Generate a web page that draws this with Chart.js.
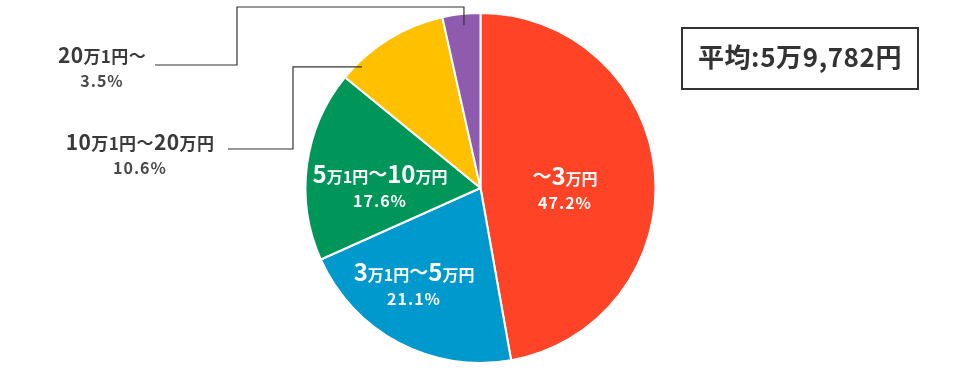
<!DOCTYPE html>
<html lang="ja">
<head>
<meta charset="utf-8">
<script src="https://cdn.jsdelivr.net/npm/chart.js@4.4.1/dist/chart.umd.min.js"></script>
<style>
  html, body { margin: 0; padding: 0; background: #ffffff; }
  #wrap { width: 960px; height: 370px; position: relative; }
</style>
</head>
<body>
<div id="wrap"><canvas id="c" width="960" height="370"></canvas></div>
<script>
// ---- data ----
const categories = ['～3万円', '3万1円～5万円', '5万1円～10万円', '10万1円～20万円', '20万1円～'];
const shares = [47.2, 21.1, 17.6, 10.6, 3.5];
const shareLabels = ['47.2%', '21.1%', '17.6%', '10.6%', '3.5%'];
const sliceColors = ['#FF4326', '#0099CD', '#00965A', '#FFC000', '#8E5BAF'];
const averageLabel = '平均:5万9,782円';

// ---- label layout (positions relative to each slice) ----
const FONT = '"Noto Sans CJK JP", "Noto Sans", sans-serif';
const insideLayout = {
  0: { shiftDeg: 5.7, frac: 0.483 },
  1: { shiftDeg: 6.5, frac: 0.672 },
  2: { shiftDeg: -7.0, frac: 0.574 }
};
const outsideLayout = {
  3: { shiftDeg: -12.7, frac: 0.968, topY: null, riseX: 293, lineY: 149, lineEndX: 228, textX: 140, baseline: 150 },
  4: { shiftDeg: 0.5, frac: 0.936, topY: 7, riseX: 237, lineY: 65, lineEndX: 155, textX: 102, baseline: 63 }
};

// split into segments: numbers (big), '万1円' / '万円' (small), wave (medium)
function splitRich(text) {
  return text.split(/(万1円|万円|～)/).filter(s => s.length).map(s => ({
    t: s,
    kind: /^(万1円|万円)$/.test(s) ? 'small' : (s === '～' ? 'wave' : 'big')
  }));
}
function drawRich(ctx, text, cx, baseline, fonts, color) {
  const parts = splitRich(text);
  ctx.save();
  ctx.fillStyle = color;
  ctx.textBaseline = 'alphabetic';
  ctx.textAlign = 'left';
  ctx.letterSpacing = (fonts.spacing || 0) + 'px';
  let total = 0;
  parts.forEach(p => { ctx.font = fonts[p.kind]; p.w = ctx.measureText(p.t).width; total += p.w; });
  let x = cx - total / 2;
  parts.forEach(p => {
    ctx.font = fonts[p.kind];
    ctx.fillText(p.t, x, baseline - (p.kind === 'wave' ? fonts.waveLift : 0));
    x += p.w;
  });
  ctx.restore();
}
function drawPlain(ctx, text, cx, baseline, font, color, spacing) {
  ctx.save();
  ctx.fillStyle = color;
  ctx.font = font;
  ctx.textBaseline = 'alphabetic';
  ctx.letterSpacing = (spacing || 0) + 'px';
  const w = ctx.measureText(text).width;
  ctx.textAlign = 'left';
  ctx.fillText(text, cx - w / 2, baseline);
  ctx.restore();
}

const insideFonts = { big: 'bold 24px ' + FONT, small: 'bold 16px ' + FONT, wave: 'bold 19px ' + FONT, waveLift: 2, spacing: 0 };
const outsideFonts = { big: 'bold 21px ' + FONT, small: 'bold 17px ' + FONT, wave: 'bold 17px ' + FONT, waveLift: 1, spacing: 0.4 };

const labelPlugin = {
  id: 'sliceLabels',
  afterDatasetsDraw(chart) {
    const ctx = chart.ctx;
    const meta = chart.getDatasetMeta(0);
    meta.data.forEach((arc, i) => {
      const p = arc.getProps(['x', 'y', 'startAngle', 'endAngle', 'outerRadius'], true);
      const mid = (p.startAngle + p.endAngle) / 2;
      if (insideLayout[i]) {
        const L = insideLayout[i];
        const a = mid + L.shiftDeg * Math.PI / 180;
        const ax = p.x + Math.cos(a) * p.outerRadius * L.frac;
        const ay = p.y + Math.sin(a) * p.outerRadius * L.frac;
        drawRich(ctx, categories[i], ax, ay - 4, insideFonts, '#ffffff');
        drawPlain(ctx, shareLabels[i], ax, ay + 20, 'bold 16px ' + FONT, '#ffffff', 1);
      } else if (outsideLayout[i]) {
        const L = outsideLayout[i];
        const a = mid + L.shiftDeg * Math.PI / 180;
        const ex = p.x + Math.cos(a) * p.outerRadius * L.frac;
        const ey = p.y + Math.sin(a) * p.outerRadius * L.frac;
        ctx.save();
        ctx.strokeStyle = '#333333';
        ctx.lineWidth = 1.2;
        ctx.beginPath();
        ctx.moveTo(ex, ey);
        if (L.topY !== null) {
          ctx.lineTo(ex, L.topY);
          ctx.lineTo(L.riseX, L.topY);
        } else {
          ctx.lineTo(L.riseX, ey);
        }
        ctx.lineTo(L.riseX, L.lineY);
        ctx.lineTo(L.lineEndX, L.lineY);
        ctx.stroke();
        ctx.restore();
        drawRich(ctx, categories[i], L.textX, L.baseline, outsideFonts, '#3a3a3a');
        drawPlain(ctx, shareLabels[i], L.textX, L.baseline + 24, 'bold 16px ' + FONT, '#4a4a4a', 1);
      }
    });
    // average box
    ctx.save();
    ctx.strokeStyle = '#333333';
    ctx.lineWidth = 2;
    ctx.strokeRect(682, 28, 236, 61);
    ctx.restore();
    drawPlain(ctx, averageLabel, 800, 67, 'bold 26px ' + FONT, '#333333', 0.6);
  }
};

new Chart(document.getElementById('c'), {
  type: 'pie',
  data: {
    labels: categories,
    datasets: [{
      data: shares,
      backgroundColor: sliceColors,
      borderColor: '#ffffff',
      borderWidth: 2,
      hoverOffset: 0
    }]
  },
  options: {
    responsive: false,
    animation: false,
    rotation: 0,
    layout: { padding: { top: 12, bottom: 6, left: 1, right: 0 } },
    plugins: {
      legend: { display: false },
      tooltip: { enabled: false },
      title: { display: false }
    }
  },
  plugins: [labelPlugin]
});
</script>
</body>
</html>
